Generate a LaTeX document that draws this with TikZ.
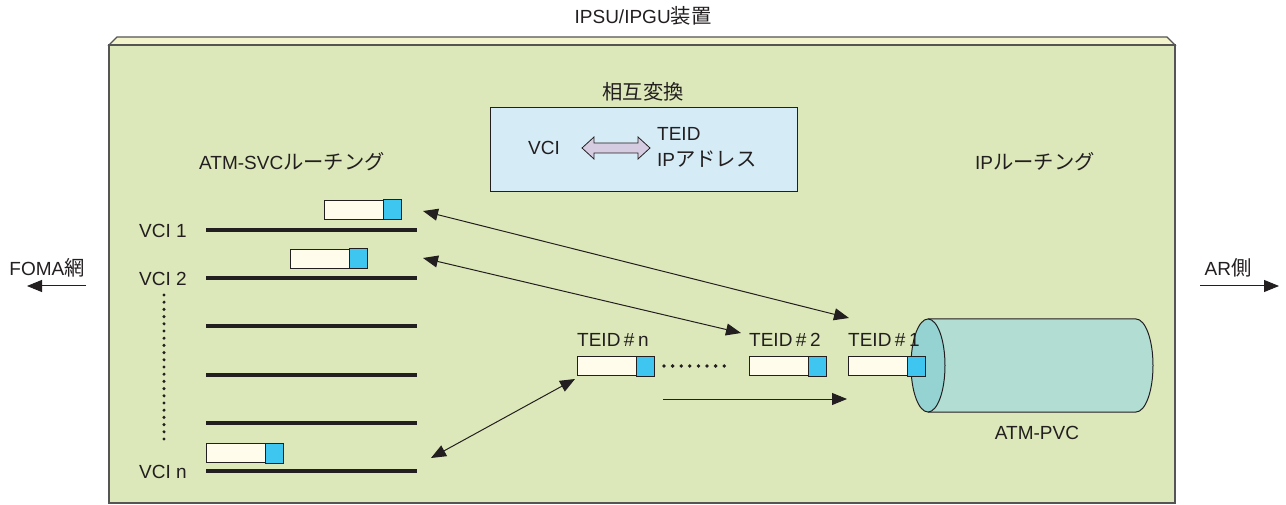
\documentclass[tikz,border=0pt]{standalone}
\usepackage{fontspec}
\setmainfont{Liberation Sans}
\newfontfamily\jp[Scale=1.07]{Noto Sans CJK JP}
\usetikzlibrary{arrows.meta,calc}
\definecolor{face}{HTML}{DCE8B9}
\definecolor{bevel}{HTML}{F3F4CC}
\definecolor{frame}{HTML}{555555}
\definecolor{inner}{HTML}{D5ECF7}
\definecolor{pwhite}{HTML}{FFFCEB}
\definecolor{pblue}{HTML}{3EC6F0}
\definecolor{cylbody}{HTML}{B1DDD3}
\definecolor{cylface}{HTML}{95D3D2}
\definecolor{lav}{HTML}{D5CCE2}
\definecolor{ink}{HTML}{231F20}
\begin{document}
\begin{tikzpicture}[x=1pt,y=-1pt,
  txt/.style={font=\fontsize{19}{21}\selectfont, text=ink, inner sep=0pt},
  packet/.style={draw=ink, line width=1pt, fill=pwhite, minimum width=76pt, minimum height=19pt, inner sep=0pt, anchor=north west},
  bar/.style={line width=4.5pt, draw=ink},
  arr/.style={draw=ink, line width=1pt, -{Triangle[length=15pt,width=12pt]}},
  darr/.style={draw=ink, line width=1pt, {Triangle[length=15pt,width=12pt]}-{Triangle[length=15pt,width=12pt]}}]
\useasboundingbox (0,0) rectangle (1286,505);
% main device box
\fill[bevel, draw=frame, line width=1.3pt] (109,45) -- (117,37) -- (1167,37) -- (1175,45) -- cycle;
\draw[fill=face, draw=frame, line width=1.5pt] (109,45) rectangle (1175,503);
\node[txt] (title) at (643,16) {IPSU/IPGU{\jp 装置}};
% conversion box
\node[txt] (convlbl) at (643,92) {\jp 相互変換};
\node[draw=ink, line width=1pt, fill=inner, minimum width=307pt, minimum height=84pt, anchor=north west, inner sep=0pt] (conv) at (490,107) {};
\node[txt] (vci) at (544,148) {VCI};
\fill[lav, draw=ink, line width=0.8pt] (582,148) -- (594,137) -- (594,143) -- (638,143) -- (638,137) -- (650,148) -- (638,159) -- (638,153) -- (594,153) -- (594,159) -- cycle;
\node[txt, anchor=west] (teid) at (657,134) {TEID};
\node[txt, anchor=west] (ipad) at (657,159) {IP{\jp アドレス}};
% section labels
\node[txt] (svc) at (292,162) {ATM-SVC{\jp ルーチング}};
\node[txt] (ipr) at (1035,162) {IP{\jp ルーチング}};
% outside labels and arrows
\node[txt] (foma) at (47,268) {FOMA{\jp 網}};
\coordinate (fomaA) at (86,286);
\coordinate (fomaB) at (27,286);
\draw[arr] (fomaA) -- (fomaB);
\node[txt] (ar) at (1228,268) {AR{\jp 側}};
\coordinate (arA) at (1200,286);
\coordinate (arB) at (1279,286);
\draw[arr] (arA) -- (arB);
% VCI bars
\foreach \y/\n in {230/1,278/2,326/3,375/4,423/5,471/6}{
  \coordinate (bl\n) at (206,\y);
  \coordinate (br\n) at (417,\y);
  \draw[bar] (bl\n) -- (br\n);
}
\node[txt] (v1) at (163,231) {VCI 1};
\node[txt] (v2) at (163,279) {VCI 2};
\node[txt] (vn) at (163,472) {VCI n};
\foreach \y in {295,302.2,...,446}{\fill[ink] (164,\y) circle (1.7pt);}
% packets on VCI side
\node[packet] (p1) at (324,200) {};
\node[packet] (p2) at (290,249) {};
\node[packet] (pn) at (206,443) {};
\foreach \p in {p1,p2,pn}{
  \draw[fill=pblue, draw=ink, line width=1pt] ($(\p.north east)+(-18,0)$) rectangle (\p.south east);
}
% cylinder
\fill[cylbody, draw=ink, line width=1pt] (928,319) -- (1136,319) arc[start angle=-90, end angle=90, x radius=17, y radius=46.5] -- (928,412);
\draw[fill=cylface, draw=ink, line width=1pt] (928,365.5) ellipse[x radius=17, y radius=46.5];
\node[txt] (pvc) at (1037,433) {ATM-PVC};
% TEID packets
\node[packet] (tn) at (577,356) {};
\node[packet] (t2) at (749,356) {};
\node[packet] (t1) at (848,356) {};
\foreach \p in {tn,t2,t1}{
  \draw[fill=pblue, draw=ink, line width=1pt] ($(\p.north east)+(-18,0)$) rectangle (\p.south east);
}
\node[txt, anchor=west] (ltn) at (577,340) {TEID\hspace{3.5pt}\#\hspace{3.5pt}n};
\node[txt, anchor=west] (lt2) at (749,340) {TEID\hspace{3.5pt}\#\hspace{3.5pt}2};
\node[txt, anchor=west] (lt1) at (848,340) {TEID\hspace{3.5pt}\#\hspace{3.5pt}1};
\foreach \x in {664,672.6,...,732}{\fill[ink] (\x,366) circle (1.9pt);}
% flow arrow
\coordinate (fa) at (663,399);
\coordinate (fb) at (847,399);
\draw[arr] (fa) -- (fb);
% mapping arrows
\coordinate (a1s) at (423,211);
\coordinate (a1e) at (849,318);
\coordinate (a2s) at (423,258);
\coordinate (a2e) at (741,333);
\coordinate (a3s) at (431,458);
\coordinate (a3e) at (575,379);
\draw[darr] (a1s) -- (a1e);
\draw[darr] (a2s) -- (a2e);
\draw[darr] (a3s) -- (a3e);
\end{tikzpicture}
\end{document}
